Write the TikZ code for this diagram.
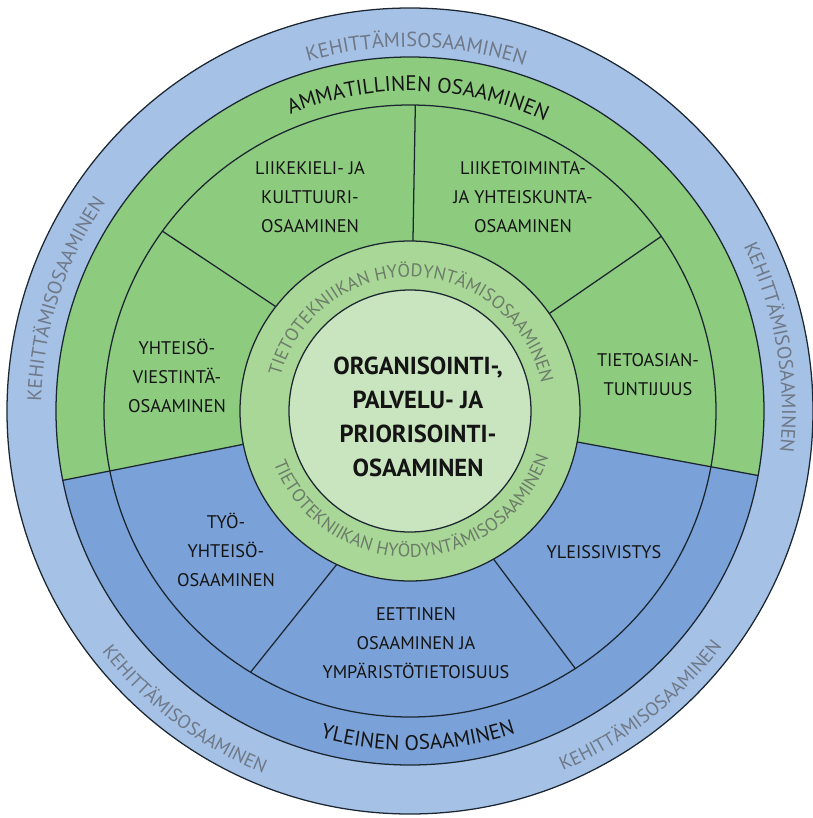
\documentclass[tikz,border=0pt]{standalone}
\usepackage{fontspec}
\setmainfont{PT Sans}
\usetikzlibrary{decorations.text}
\definecolor{outerblue}{HTML}{A5C1E6}
\definecolor{innerblue}{HTML}{7AA2D8}
\definecolor{greenA}{HTML}{8DCB7F}
\definecolor{greenB}{HTML}{A8D797}
\definecolor{greenC}{HTML}{C9E5BF}
\definecolor{kehgray}{HTML}{6F7886}
\definecolor{tietogray}{HTML}{6C7C68}
\definecolor{linecol}{HTML}{1B2630}
\definecolor{txtcol}{HTML}{141414}
\newcommand\kehfont{\fontsize{14.5}{16}\selectfont\color{kehgray}}
\newcommand\kehsidefont{\fontsize{14}{16}\selectfont\color{kehgray}}
\newcommand\kehlowfont{\fontsize{13.5}{16}\selectfont\color{kehgray}}
\newcommand\bandfont{\fontsize{15}{17}\selectfont\color{txtcol}}
\newcommand\tietofont{\fontsize{13}{15}\selectfont\color{tietogray}}
\begin{document}
\begin{tikzpicture}[x=0.025cm,y=0.025cm,
  ring/.style={draw=linecol, line width=0.9pt},
  divider/.style={draw=linecol, line width=0.9pt},
  sector/.style={align=center, text=txtcol, font=\fontsize{13}{20.5}\selectfont, inner sep=0pt},
  core/.style={align=center, text=txtcol, font=\fontsize{17.5}{24}\selectfont\bfseries, inner sep=0pt},
  arctext/.style={decorate, decoration={text along path, text align=center, text={#1}}}
]
\useasboundingbox (-410,-407) rectangle (402,411);
% outer ring
\fill[outerblue] (0,0) circle[radius=403];
\draw[ring] (0,0) circle[radius=403];
% blue and green regions
\fill[innerblue] (0,0) circle[radius=354];
\fill[greenA] (0,0) -- (-10.5:354) arc[start angle=-10.5, end angle=191.3, radius=354] -- cycle;
\draw[ring] (0,0) circle[radius=354];
\draw[ring] (0,0) circle[radius=306];
% boundary lines green/blue
\coordinate (bl1) at (191.3:165); \coordinate (bl2) at (191.3:354);
\coordinate (br1) at (-10.5:165); \coordinate (br2) at (-10.5:354);
\draw[divider] (bl1) -- (bl2);
\draw[divider] (br1) -- (br2);
% green dividers
\coordinate (g1a) at (89:165); \coordinate (g1b) at (89:306);
\coordinate (g2a) at (142:165); \coordinate (g2b) at (144:306);
\coordinate (g3a) at (35:165); \coordinate (g3b) at (34.8:306);
\draw[divider] (g1a) -- (g1b);
\draw[divider] (g2a) -- (g2b);
\draw[divider] (g3a) -- (g3b);
% blue dividers
\coordinate (b1a) at (244.9:165); \coordinate (b1b) at (238.6:306);
\coordinate (b2a) at (299.2:165); \coordinate (b2b) at (302.7:306);
\draw[divider] (b1a) -- (b1b);
\draw[divider] (b2a) -- (b2b);
% middle ring and core
\fill[greenB] (0,0) circle[radius=170];
\draw[ring] (0,0) circle[radius=170];
\fill[greenC] (0,0) circle[radius=121];
\draw[ring] (0,0) circle[radius=121];
% outer ring texts
\path[arctext={|\kehfont|KEHITTÄMISOSAAMINEN}] (129:364) arc[start angle=129, end angle=49, radius=364];
\path[arctext={|\kehsidefont|KEHITTÄMISOSAAMINEN}] (202:369) arc[start angle=202, end angle=122, radius=369];
\path[arctext={|\kehsidefont|KEHITTÄMISOSAAMINEN}] (50:372) arc[start angle=50, end angle=-30, radius=372];
\path[arctext={|\kehlowfont|KEHITTÄMISOSAAMINEN}] (193:391) arc[start angle=193, end angle=273, radius=391];
\path[arctext={|\kehlowfont|KEHITTÄMISOSAAMINEN}] (268:391) arc[start angle=268, end angle=348, radius=391];
% band texts
\path[arctext={|\bandfont|AMMATILLINEN OSAAMINEN}] (138.5:320) arc[start angle=138.5, end angle=38.5, radius=320];
\path[arctext={|\bandfont|YLEINEN OSAAMINEN}] (221.4:339) arc[start angle=221.4, end angle=321.4, radius=339];
% middle ring texts
\path[arctext={|\tietofont|TIETOTEKNIIKAN HYÖDYNTÄMISOSAAMINEN}] (183.4:134) arc[start angle=183.4, end angle=-6.6, radius=134];
\path[arctext={|\tietofont|TIETOTEKNIIKAN HYÖDYNTÄMISOSAAMINEN}] (181.3:146) arc[start angle=181.3, end angle=361.3, radius=146];
% sector texts
\node[sector] (s1) at (-100,214) {LIIKEKIELI- JA\\KULTTUURI-\\OSAAMINEN};
\node[sector] (s2) at (113,214) {LIIKETOIMINTA-\\JA YHTEISKUNTA-\\OSAAMINEN};
\node[sector] (s3) at (-233,35) {YHTEISÖ-\\VIESTINTÄ-\\OSAAMINEN};
\node[sector] (s4) at (238,36) {TIETOASIAN-\\TUNTIJUUS};
\node[sector] (s5) at (-184,-139) {TYÖ-\\YHTEISÖ-\\OSAAMINEN};
\node[sector] (s6) at (6,-232) {EETTINEN\\OSAAMINEN JA\\YMPÄRISTÖTIETOISUUS};
\node[sector] (s7) at (194,-141) {YLEISSIVISTYS};
\node[core] (c) at (8,-6) {ORGANISOINTI-,\\PALVELU- JA\\PRIORISOINTI-\\OSAAMINEN};
\end{tikzpicture}
\end{document}
